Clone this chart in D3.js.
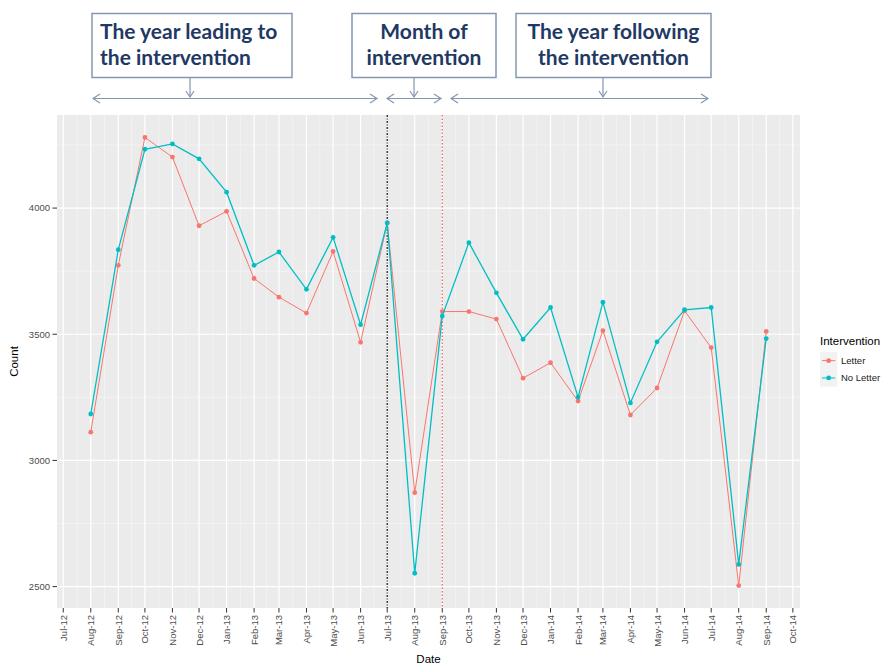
<!DOCTYPE html>
<html>
<head>
<meta charset="utf-8">
<script src="https://cdn.jsdelivr.net/npm/d3@7.9.0/dist/d3.min.js"></script>
<style>
  body { margin: 0; background: #fff; overflow: hidden; }
  svg { display: block; }
  .tick-lab { font-family: "Liberation Sans", Arial, sans-serif; font-size: 9.5px; fill: #4d4d4d; }
  .ann { font-family: Lato, "Open Sans", sans-serif; font-weight: bold; font-size: 21px; fill: #1f3864; }
</style>
</head>
<body>
<svg id="chart" width="882" height="666"></svg>
<script>
// monthly counts, Aug-12 .. Sep-14
const months = ['2012-08','2012-09','2012-10','2012-11','2012-12','2013-01','2013-02','2013-03',
  '2013-04','2013-05','2013-06','2013-07','2013-08','2013-09','2013-10','2013-11','2013-12',
  '2014-01','2014-02','2014-03','2014-04','2014-05','2014-06','2014-07','2014-08','2014-09'];
const letter = [3112, 3773, 4280, 4202, 3930, 3987, 3721, 3647, 3584, 3828, 3468, 3941, 2872,
  3590, 3590, 3560, 3326, 3387, 3235, 3514, 3180, 3287, 3593, 3447, 2504, 3511];
const noLetter = [3184, 3835, 4233, 4254, 4195, 4063, 3773, 3826, 3678, 3884, 3538, 3941, 2553,
  3572, 3863, 3664, 3480, 3606, 3251, 3627, 3228, 3470, 3597, 3606, 2588, 3483];
const seriesNames = ['Letter', 'No Letter'];
const tickMonths = ['2012-07', '2014-10']; // first and last labelled month
const yTicks = [2500, 3000, 3500, 4000];
const interventionStart = '2013-07';
const interventionEnd = '2013-09';

const parse = d3.utcParse('%Y-%m');
const dates = months.map(parse);
const colors = ['#F8766D', '#00BFC4'];

const svg = d3.select('#chart');
const panel = { left: 57, right: 800, top: 115, bottom: 608 };

// ggplot style 5% expansion
const dExt = d3.extent(dates);
const dPad = (dExt[1] - dExt[0]) * 0.05;
const x = d3.scaleUtc()
  .domain([new Date(+dExt[0] - dPad), new Date(+dExt[1] + dPad)])
  .range([panel.left, panel.right]);

const vExt = d3.extent(letter.concat(noLetter));
const vPad = (vExt[1] - vExt[0]) * 0.05;
const y = d3.scaleLinear()
  .domain([vExt[0] - vPad, vExt[1] + vPad])
  .range([panel.bottom, panel.top]);

// panel background
svg.append('rect')
  .attr('x', panel.left).attr('y', panel.top)
  .attr('width', panel.right - panel.left).attr('height', panel.bottom - panel.top)
  .attr('fill', '#ebebeb');

const majorX = d3.utcMonth.range(parse(tickMonths[0]), d3.utcMonth.offset(parse(tickMonths[1]), 1));
const minorX = majorX.slice(1).map((d, i) => new Date((+d + +majorX[i]) / 2));
const minorY = yTicks.map(v => v + 250).concat([yTicks[0] - 250]).filter(v => v > y.domain()[0] && v < y.domain()[1]);

const grid = svg.append('g');
grid.selectAll('.ymin').data(minorY).join('line')
  .attr('x1', panel.left).attr('x2', panel.right)
  .attr('y1', d => y(d)).attr('y2', d => y(d))
  .attr('stroke', '#f7f7f7').attr('stroke-width', 0.6);
grid.selectAll('.xmin').data(minorX).join('line')
  .attr('y1', panel.top).attr('y2', panel.bottom)
  .attr('x1', d => x(d)).attr('x2', d => x(d))
  .attr('stroke', '#f7f7f7').attr('stroke-width', 0.6);
grid.selectAll('.ymaj').data(yTicks).join('line')
  .attr('x1', panel.left).attr('x2', panel.right)
  .attr('y1', d => y(d)).attr('y2', d => y(d))
  .attr('stroke', '#fff').attr('stroke-width', 1.2);
grid.selectAll('.xmaj').data(majorX).join('line')
  .attr('y1', panel.top).attr('y2', panel.bottom)
  .attr('x1', d => x(d)).attr('x2', d => x(d))
  .attr('stroke', '#fff').attr('stroke-width', 1.2);

// intervention lines
svg.append('line')
  .attr('x1', x(parse(interventionStart))).attr('x2', x(parse(interventionStart)))
  .attr('y1', panel.top).attr('y2', panel.bottom)
  .attr('stroke', '#222').attr('stroke-width', 1.3).attr('stroke-dasharray', '2,1.5,1,1.5');
svg.append('line')
  .attr('x1', x(parse(interventionEnd))).attr('x2', x(parse(interventionEnd)))
  .attr('y1', panel.top).attr('y2', panel.bottom)
  .attr('stroke', '#e8605a').attr('stroke-width', 1.2).attr('stroke-dasharray', '1.5,2');

// series
const line = d3.line().x((d, i) => x(dates[i])).y(d => y(d));
[letter, noLetter].forEach((vals, s) => {
  const g = svg.append('g');
  g.append('path')
    .attr('d', line(vals))
    .attr('fill', 'none')
    .attr('stroke', colors[s])
    .attr('stroke-width', s === 0 ? 1 : 1.3);
  g.selectAll('circle').data(vals).join('circle')
    .attr('cx', (d, i) => x(dates[i]))
    .attr('cy', d => y(d))
    .attr('r', 2.4)
    .attr('fill', colors[s]);
});

// y axis
const yAxis = svg.append('g');
yAxis.selectAll('line').data(yTicks).join('line')
  .attr('x1', panel.left - 4.5).attr('x2', panel.left)
  .attr('y1', d => y(d)).attr('y2', d => y(d))
  .attr('stroke', '#333').attr('stroke-width', 1);
yAxis.selectAll('text').data(yTicks).join('text')
  .attr('class', 'tick-lab')
  .attr('x', panel.left - 7).attr('y', d => y(d))
  .attr('dy', '0.35em').attr('text-anchor', 'end')
  .text(d => d);

// x axis
const fmt = d3.utcFormat('%b-%y');
const xAxis = svg.append('g');
xAxis.selectAll('line').data(majorX).join('line')
  .attr('x1', d => x(d)).attr('x2', d => x(d))
  .attr('y1', panel.bottom).attr('y2', panel.bottom + 4.5)
  .attr('stroke', '#333').attr('stroke-width', 1);
xAxis.selectAll('text').data(majorX).join('text')
  .attr('class', 'tick-lab')
  .attr('transform', d => `translate(${x(d) + 3.5},${panel.bottom + 7}) rotate(-90)`)
  .attr('text-anchor', 'end')
  .text(d => fmt(d));

svg.append('text')
  .attr('x', (panel.left + panel.right) / 2).attr('y', 663)
  .attr('text-anchor', 'middle')
  .attr('font-family', '"Liberation Sans", Arial, sans-serif').attr('font-size', 11.5)
  .text('Date');
svg.append('text')
  .attr('transform', `translate(18,${(panel.top + panel.bottom) / 2}) rotate(-90)`)
  .attr('text-anchor', 'middle')
  .attr('font-family', '"Liberation Sans", Arial, sans-serif').attr('font-size', 11.5)
  .text('Count');

// legend
const legend = svg.append('g').attr('transform', 'translate(820,334)');
legend.append('text')
  .attr('x', 0).attr('y', 11)
  .attr('font-family', '"Liberation Sans", Arial, sans-serif').attr('font-size', 11.5)
  .text('Intervention');
seriesNames.forEach((name, i) => {
  const row = legend.append('g').attr('transform', `translate(0,${18 + i * 17.3})`);
  row.append('rect').attr('width', 17.3).attr('height', 17.3).attr('fill', '#f2f2f2');
  row.append('line').attr('x1', 2).attr('x2', 15.3).attr('y1', 8.65).attr('y2', 8.65)
    .attr('stroke', colors[i]).attr('stroke-width', 1);
  row.append('circle').attr('cx', 8.65).attr('cy', 8.65).attr('r', 2.4).attr('fill', colors[i]);
  row.append('text')
    .attr('x', 21).attr('y', 8.65).attr('dy', '0.35em')
    .attr('font-family', '"Liberation Sans", Arial, sans-serif').attr('font-size', 9.5)
    .attr('fill', '#1a1a1a')
    .text(name);
});

// annotation boxes and arrows
const annColor = '#8497b0';
const boxes = [
  { x0: 92, x1: 292, lines: ['The year leading to', 'the intervention'], align: 'start', ax: 190, a0: 93, a1: 377 },
  { x0: 352, x1: 496, lines: ['Month of', 'intervention'], align: 'middle', ax: 414, a0: 387, a1: 441 },
  { x0: 516, x1: 711, lines: ['The year following', 'the intervention'], align: 'middle', ax: 603, a0: 451, a1: 708 }
];
const ann = svg.append('g');
boxes.forEach(b => {
  ann.append('rect')
    .attr('x', b.x0).attr('y', 13.5).attr('width', b.x1 - b.x0).attr('height', 64)
    .attr('fill', '#fff').attr('stroke', annColor).attr('stroke-width', 1.5);
  b.lines.forEach((t, i) => {
    ann.append('text').attr('class', 'ann')
      .attr('x', b.align === 'start' ? b.x0 + 8 : (b.x0 + b.x1) / 2).attr('y', 39 + i * 26)
      .attr('text-anchor', b.align)
      .text(t);
  });
  // down arrow
  ann.append('line').attr('x1', b.ax).attr('x2', b.ax).attr('y1', 77.5).attr('y2', 97)
    .attr('stroke', annColor).attr('stroke-width', 1.2);
  ann.append('path').attr('d', `M${b.ax - 4},${91} L${b.ax},${97} L${b.ax + 4},${91}`)
    .attr('fill', 'none').attr('stroke', annColor).attr('stroke-width', 1.2);
  // double-headed horizontal arrow
  ann.append('line').attr('x1', b.a0).attr('x2', b.a1).attr('y1', 98.5).attr('y2', 98.5)
    .attr('stroke', annColor).attr('stroke-width', 1.2);
  ann.append('path').attr('d', `M${b.a0 + 7},${94} L${b.a0},${98.5} L${b.a0 + 7},${103}`)
    .attr('fill', 'none').attr('stroke', annColor).attr('stroke-width', 1.2);
  ann.append('path').attr('d', `M${b.a1 - 7},${94} L${b.a1},${98.5} L${b.a1 - 7},${103}`)
    .attr('fill', 'none').attr('stroke', annColor).attr('stroke-width', 1.2);
});
</script>
</body>
</html>
